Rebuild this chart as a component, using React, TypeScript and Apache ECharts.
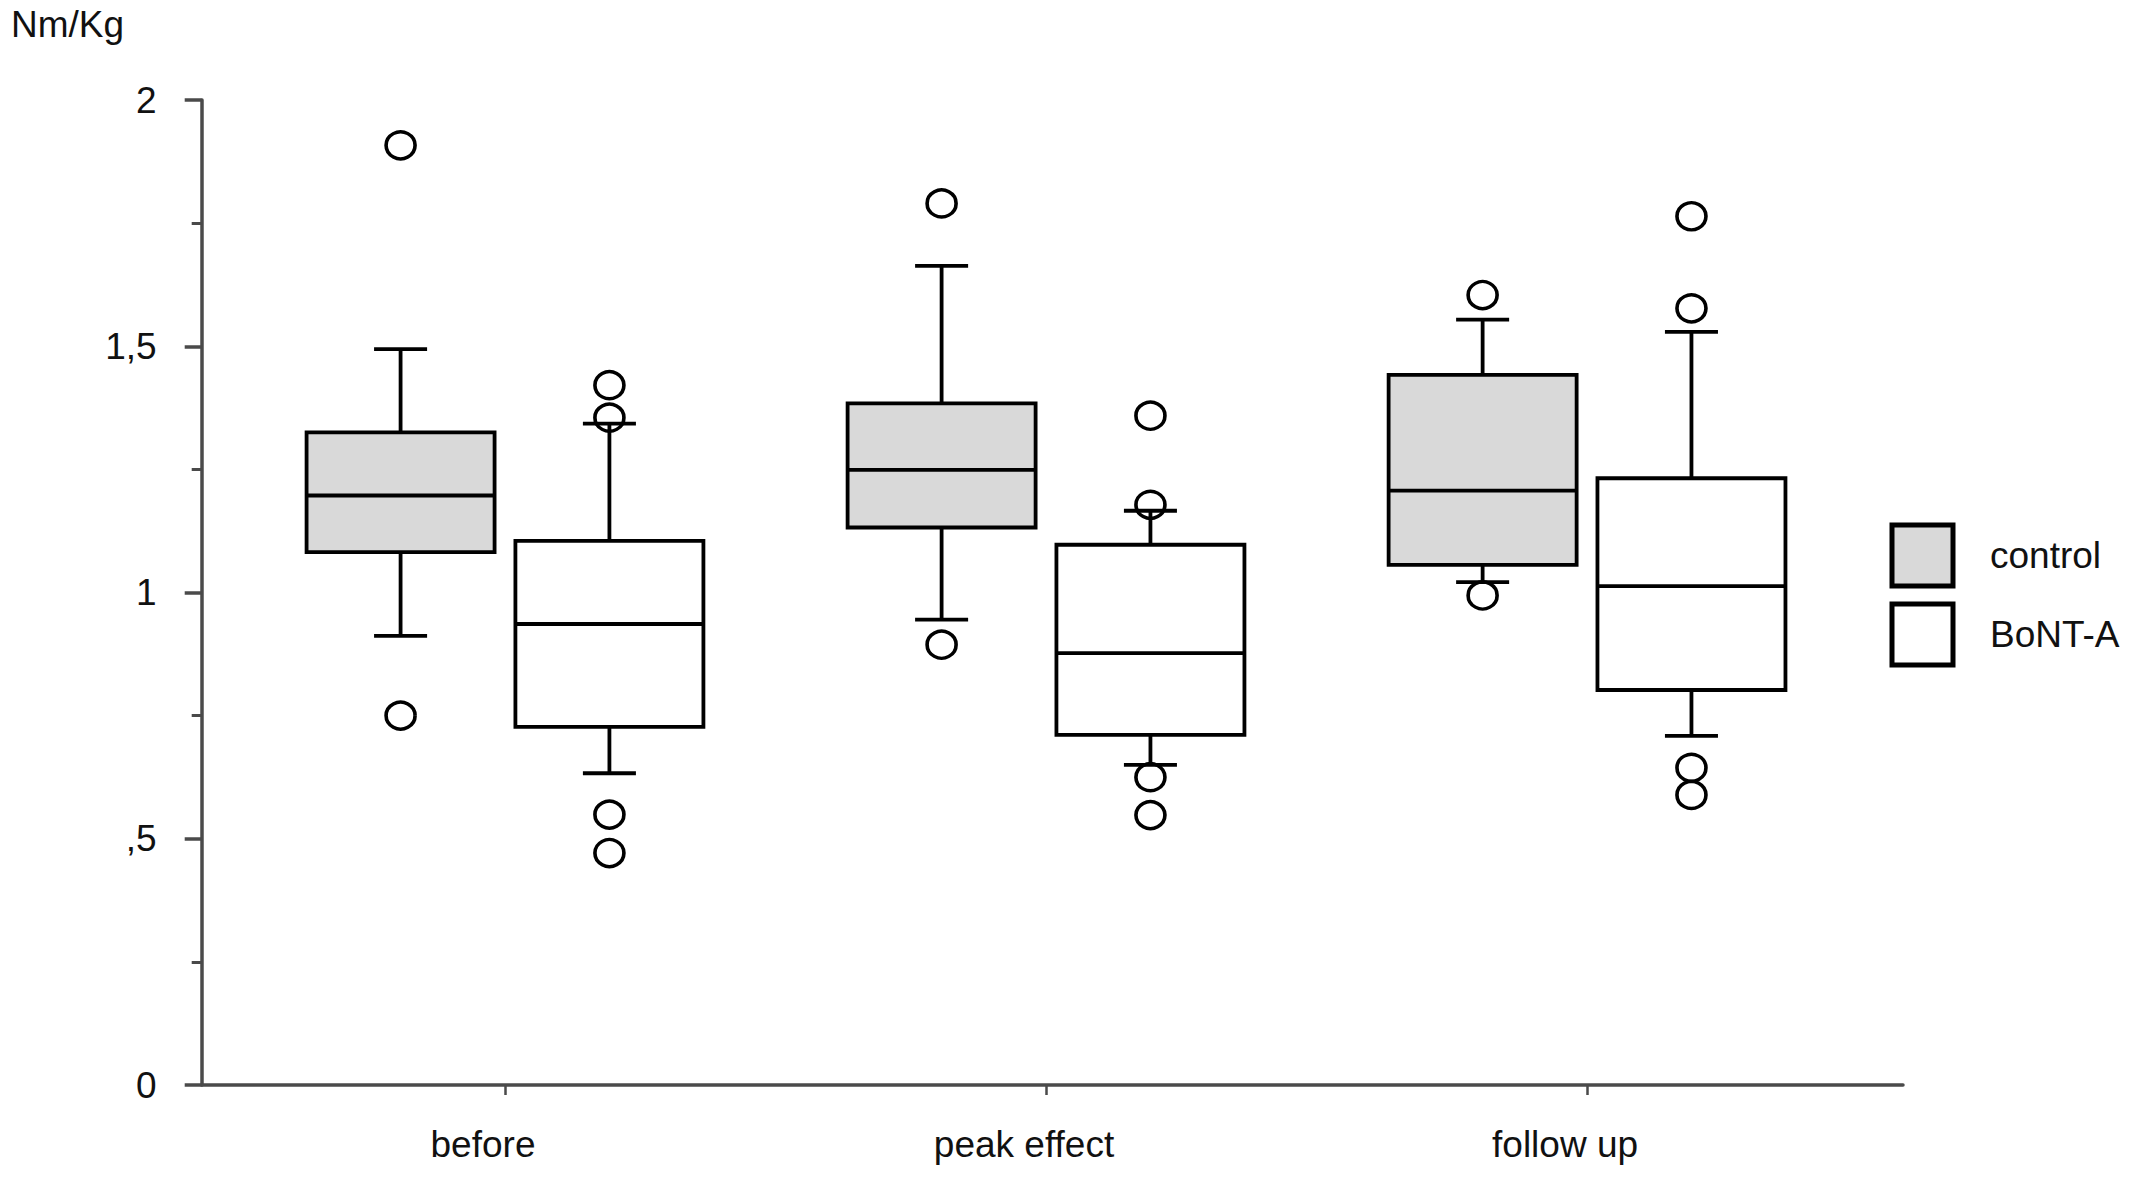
import React, { useEffect, useRef } from "react";
import * as echarts from "echarts";

// ---- data ----
const categories = ["before", "peak effect", "follow up"];
const groups = ["control", "BoNT-A"];
// [low whisker, Q1, median, Q3, high whisker]
const controlStats = [
  [0.912, 1.082, 1.197, 1.325, 1.494],
  [0.945, 1.132, 1.249, 1.384, 1.663],
  [1.021, 1.056, 1.207, 1.442, 1.554],
];
const bontStats = [
  [0.633, 0.727, 0.936, 1.105, 1.343],
  [0.65, 0.711, 0.877, 1.097, 1.166],
  [0.709, 0.802, 1.013, 1.232, 1.529],
];
const controlOutliers = [
  [1.908, 0.75],
  [1.79, 0.894],
  [1.604, 0.994],
];
const bontOutliers = [
  [1.421, 1.355, 0.549, 0.471],
  [1.359, 1.178, 0.625, 0.548],
  [1.764, 1.577, 0.644, 0.589],
];
const yTicks = [0, 0.5, 1, 1.5, 2];

// ---- styling / layout constants ----
const FONT = '"Liberation Sans", Arial, Helvetica, sans-serif';
const FONT_SIZE = 37;
const BOX_W = 0.3475;
const CAP_W = 0.098;
const OFFSET = 0.193;
const LINE_W = 3.8;
const AXIS_COLOR = "#4a4a4a";
const FILLS = ["#d9d9d9", "#ffffff"];

function boxSeries(name: string, stats: number[][], offset: number, fill: string) {
  return {
    type: "custom",
    name,
    data: stats.map((s, i) => [i, ...s]),
    encode: { x: 0, y: [1, 2, 3, 4, 5] },
    z: 2,
    renderItem: (params: any, api: any) => {
      const xv = api.value(0) + offset;
      const pLow = api.coord([xv, api.value(1)]);
      const pQ1 = api.coord([xv, api.value(2)]);
      const pMed = api.coord([xv, api.value(3)]);
      const pQ3 = api.coord([xv, api.value(4)]);
      const pHigh = api.coord([xv, api.value(5)]);
      const half = api.size([BOX_W, 0])[0] / 2;
      const capHalf = api.size([CAP_W, 0])[0] / 2;
      const cx = pMed[0];
      const ls = { stroke: "#000", lineWidth: LINE_W, fill: "none" };
      return {
        type: "group",
        children: [
          { type: "line", shape: { x1: cx, y1: pQ3[1], x2: cx, y2: pHigh[1] }, style: ls },
          { type: "line", shape: { x1: cx, y1: pQ1[1], x2: cx, y2: pLow[1] }, style: ls },
          { type: "line", shape: { x1: cx - capHalf, y1: pHigh[1], x2: cx + capHalf, y2: pHigh[1] }, style: ls },
          { type: "line", shape: { x1: cx - capHalf, y1: pLow[1], x2: cx + capHalf, y2: pLow[1] }, style: ls },
          {
            type: "rect",
            shape: { x: cx - half, y: pQ3[1], width: half * 2, height: pQ1[1] - pQ3[1] },
            style: { fill, stroke: "#000", lineWidth: LINE_W },
          },
          { type: "line", shape: { x1: cx - half, y1: pMed[1], x2: cx + half, y2: pMed[1] }, style: ls },
        ],
      };
    },
  };
}

function outlierSeries(name: string, outliers: number[][], offset: number) {
  const data: number[][] = [];
  outliers.forEach((vals, i) => vals.forEach((v) => data.push([i + offset, v])));
  return {
    type: "scatter",
    name,
    data,
    z: 3,
    symbol: "circle",
    symbolSize: [29, 27],
    itemStyle: { color: "rgba(0,0,0,0)", borderColor: "#000", borderWidth: 3.5, opacity: 1 },
    emphasis: { disabled: true },
  };
}

export default function App() {
  const ref = useRef<HTMLDivElement>(null);
  useEffect(() => {
    if (!ref.current) return;
    const chart = echarts.init(ref.current, undefined, { renderer: "svg" });
    const option: any = {
      animation: false,
      backgroundColor: "#ffffff",
      textStyle: { fontFamily: FONT },
      grid: { left: 201.7, right: 230, top: 100, bottom: 98, containLabel: false },
      xAxis: {
        type: "value",
        min: -0.5606,
        max: 2.584,
        splitLine: { show: false },
        axisLine: { show: true, onZero: false, lineStyle: { color: AXIS_COLOR, width: 3.5 } },
        axisTick: { show: true, customValues: [0, 1, 2], length: 10, lineStyle: { color: AXIS_COLOR, width: 2.5 } },
        axisLabel: {
          customValues: [0, 1, 2],
          formatter: (v: number) => categories[Math.round(v)] ?? "",
          fontSize: FONT_SIZE,
          color: "#111",
          fontFamily: FONT,
          margin: 41,
          padding: [0, 44, 0, 0],
        },
      },
      yAxis: {
        type: "value",
        min: 0,
        max: 2,
        interval: 0.5,
        splitLine: { show: false },
        axisLine: { show: true, onZero: false, lineStyle: { color: AXIS_COLOR, width: 3.5 } },
        axisTick: { show: true, length: 17, lineStyle: { color: AXIS_COLOR, width: 3.5 } },
        minorTick: { show: true, splitNumber: 2, length: 10, lineStyle: { color: AXIS_COLOR, width: 3 } },
        axisLabel: {
          fontSize: FONT_SIZE,
          color: "#111",
          fontFamily: FONT,
          margin: 45,
          formatter: (v: number) =>
            yTicks.includes(v) ? String(v).replace(".", ",").replace(/^0,/, ",") : "",
        },
      },
      legend: {
        orient: "vertical",
        left: 1889.5,
        top: 522.5,
        padding: 0,
        itemWidth: 61,
        itemHeight: 61,
        itemGap: 13,
        selectedMode: false,
        textStyle: { fontSize: FONT_SIZE, color: "#111", fontFamily: FONT, padding: [0, 0, 0, 32] },
        data: groups.map((g, i) => ({
          name: g,
          icon: "rect",
          itemStyle: { color: FILLS[i], borderColor: "#000", borderWidth: 5 },
        })),
      },
      graphic: [
        {
          type: "text",
          x: 11,
          y: 24,
          style: {
            text: "Nm/Kg",
            fontSize: FONT_SIZE,
            fontFamily: FONT,
            fill: "#111",
            verticalAlign: "middle",
          },
        },
      ],
      series: [
        boxSeries(groups[0], controlStats, -OFFSET, FILLS[0]),
        boxSeries(groups[1], bontStats, OFFSET, FILLS[1]),
        outlierSeries(groups[0], controlOutliers, -OFFSET),
        outlierSeries(groups[1], bontOutliers, OFFSET),
      ],
    };
    chart.setOption(option);
    return () => chart.dispose();
  }, []);
  return (
    <div
      ref={ref}
      style={{ position: "absolute", left: 0, top: 0, width: 2133, height: 1183, background: "#fff" }}
    />
  );
}
